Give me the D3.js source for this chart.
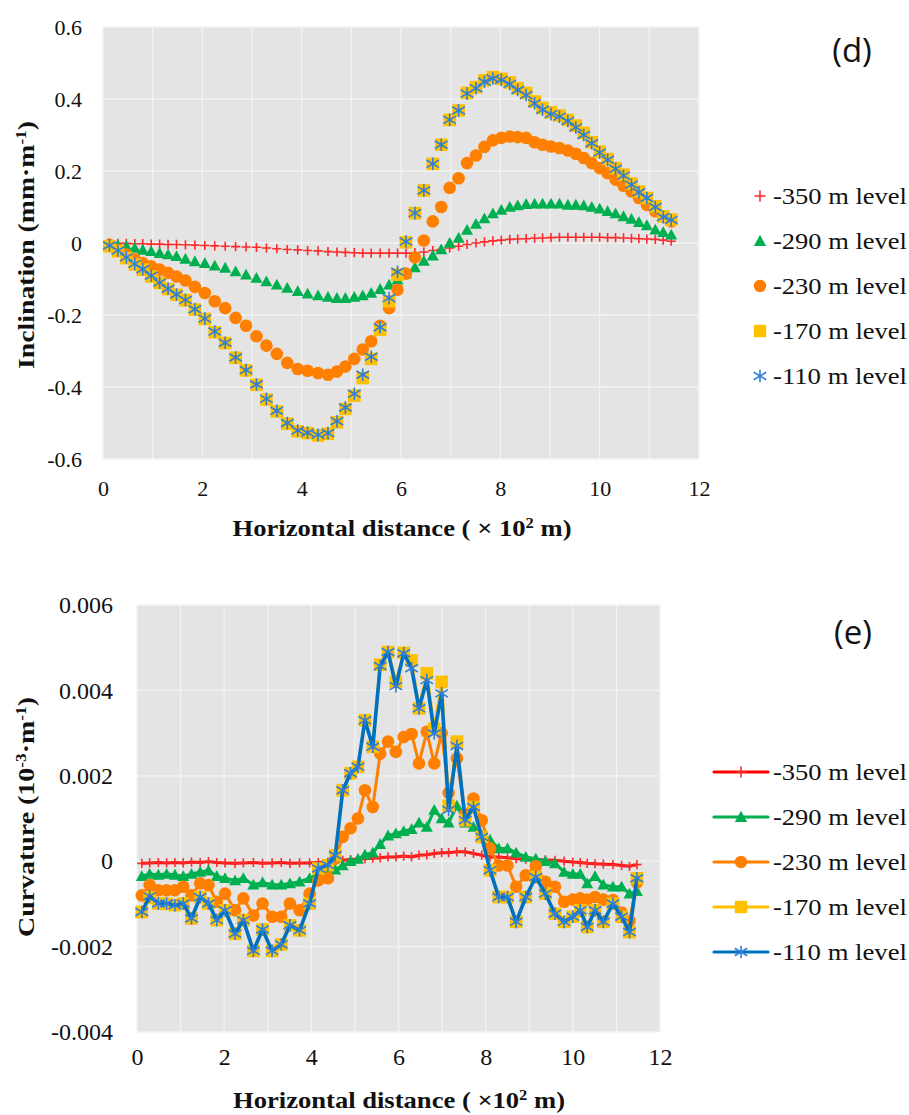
<!DOCTYPE html>
<html>
<head>
<meta charset="utf-8">
<script src="https://cdn.jsdelivr.net/npm/d3@7"></script>
<style>
  body { margin: 0; background: #fff; }
  svg { display: block; }
</style>
</head>
<body>
<svg id="fig" width="909" height="1115"></svg>
<script>
// ---- series metadata ----
const levels = ["-350 m level", "-290 m level", "-230 m level", "-170 m level", "-110 m level"];
const markerKinds = ["plus", "triangle", "circle", "square", "star"];
const markerColors = ["#ff2a2a", "#00b050", "#ff8000", "#ffc000", "#2f7fd6"];
const lineColors = ["#ff0000", "#00b050", "#ff8000", "#ffc000", "#0070c0"];

// ---- (d) inclination, mm/m ----
const distTop = [0.13,0.30,0.47,0.64,0.80,0.97,1.14,1.31,1.48,1.66,
  1.85,2.05,2.25,2.46,2.67,2.88,3.09,3.29,3.50,3.71,
  3.92,4.12,4.33,4.53,4.71,4.88,5.06,5.23,5.40,5.58,
  5.76,5.93,6.10,6.28,6.46,6.64,6.81,6.98,7.16,7.33,
  7.51,7.68,7.85,8.02,8.19,8.35,8.52,8.69,8.85,9.02,
  9.19,9.36,9.52,9.68,9.84,10.00,10.16,10.32,10.48,10.64,
  10.79,10.95,11.12,11.28,11.44];
const incl350 = [0.000,-0.001,-0.001,-0.002,-0.002,-0.003,-0.003,-0.004,-0.004,-0.005,
  -0.006,-0.007,-0.008,-0.009,-0.010,-0.011,-0.012,-0.014,-0.016,-0.018,
  -0.019,-0.021,-0.022,-0.024,-0.025,-0.026,-0.027,-0.028,-0.028,-0.028,
  -0.028,-0.028,-0.028,-0.027,-0.025,-0.021,-0.018,-0.014,-0.009,-0.004,
  0.000,0.003,0.006,0.008,0.010,0.011,0.012,0.013,0.014,0.015,
  0.016,0.016,0.016,0.016,0.016,0.016,0.015,0.015,0.014,0.013,
  0.012,0.011,0.010,0.008,0.005];
const incl290 = [-0.002,-0.006,-0.009,-0.014,-0.019,-0.023,-0.028,-0.032,-0.037,-0.044,
  -0.051,-0.056,-0.063,-0.069,-0.079,-0.088,-0.097,-0.107,-0.116,-0.125,
  -0.134,-0.141,-0.146,-0.150,-0.153,-0.153,-0.150,-0.146,-0.139,-0.128,
  -0.116,-0.102,-0.085,-0.068,-0.050,-0.035,-0.018,0.000,0.014,0.036,
  0.053,0.068,0.082,0.092,0.100,0.104,0.108,0.109,0.109,0.109,
  0.109,0.106,0.106,0.104,0.100,0.095,0.088,0.082,0.074,0.067,
  0.058,0.049,0.037,0.030,0.023];
const incl230 = [-0.005,-0.019,-0.032,-0.045,-0.056,-0.065,-0.074,-0.083,-0.093,-0.104,
  -0.122,-0.139,-0.162,-0.181,-0.208,-0.230,-0.259,-0.285,-0.308,-0.333,
  -0.350,-0.355,-0.361,-0.366,-0.357,-0.343,-0.322,-0.296,-0.273,-0.230,
  -0.181,-0.130,-0.085,-0.040,0.007,0.060,0.100,0.153,0.180,0.222,
  0.243,0.267,0.285,0.292,0.296,0.294,0.292,0.280,0.273,0.268,
  0.264,0.257,0.248,0.236,0.222,0.208,0.194,0.176,0.159,0.143,
  0.125,0.106,0.088,0.074,0.060];
const incl170 = [-0.009,-0.023,-0.042,-0.060,-0.074,-0.093,-0.111,-0.128,-0.144,-0.159,
  -0.185,-0.211,-0.248,-0.278,-0.319,-0.354,-0.394,-0.435,-0.468,-0.502,
  -0.523,-0.528,-0.535,-0.530,-0.498,-0.461,-0.424,-0.375,-0.322,-0.241,
  -0.162,-0.088,0.002,0.083,0.146,0.220,0.273,0.342,0.368,0.417,
  0.433,0.452,0.461,0.456,0.446,0.430,0.417,0.393,0.375,0.363,
  0.354,0.342,0.326,0.306,0.280,0.254,0.233,0.208,0.190,0.165,
  0.143,0.125,0.102,0.074,0.065];
const incl110 = [-0.007,-0.021,-0.040,-0.058,-0.073,-0.091,-0.110,-0.127,-0.143,-0.158,
  -0.184,-0.210,-0.246,-0.277,-0.318,-0.353,-0.393,-0.433,-0.466,-0.500,
  -0.521,-0.527,-0.533,-0.528,-0.495,-0.457,-0.419,-0.366,-0.316,-0.234,
  -0.153,-0.080,0.004,0.083,0.146,0.220,0.273,0.342,0.368,0.415,
  0.430,0.448,0.457,0.453,0.442,0.425,0.411,0.388,0.370,0.358,
  0.351,0.339,0.321,0.300,0.277,0.251,0.231,0.206,0.187,0.162,
  0.141,0.125,0.100,0.072,0.064];

// ---- (e) curvature ----
const distBot = [0.11,0.29,0.49,0.68,0.87,1.06,1.25,1.45,1.64,1.83,
  2.02,2.25,2.44,2.67,2.88,3.10,3.31,3.51,3.73,3.96,
  4.16,4.38,4.55,4.72,4.90,5.07,5.23,5.41,5.58,5.76,
  5.94,6.12,6.30,6.47,6.65,6.82,6.99,7.15,7.34,7.53,
  7.72,7.91,8.10,8.30,8.50,8.70,8.92,9.15,9.37,9.59,
  9.80,10.00,10.17,10.33,10.51,10.70,10.92,11.12,11.30,11.47];
const curv350 = [-0.00005,-0.00004,-0.00003,-0.00004,-0.00003,-0.00004,-0.00002,-0.00003,-0.00001,-0.00003,
  -0.00004,-0.00005,-0.00004,-0.00003,-0.00005,-0.00004,-0.00003,-0.00005,-0.00004,-0.00004,
  -0.00003,-0.00002,0.00000,0.00002,0.00004,0.00005,0.00006,0.00007,0.00008,0.00010,
  0.00010,0.00012,0.00010,0.00014,0.00015,0.00018,0.00020,0.00020,0.00022,0.00022,
  0.00018,0.00014,0.00010,0.00010,0.00008,0.00006,0.00005,0.00004,0.00003,0.00002,
  0.00000,-0.00002,-0.00003,-0.00005,-0.00006,-0.00007,-0.00008,-0.00010,-0.00012,-0.00008];
const curv290 = [-0.00035,-0.00030,-0.00032,-0.00030,-0.00032,-0.00035,-0.00030,-0.00025,-0.00022,-0.00035,
  -0.00040,-0.00045,-0.00040,-0.00055,-0.00050,-0.00055,-0.00055,-0.00052,-0.00048,-0.00040,
  -0.00030,-0.00025,-0.00020,-0.00010,0.00000,0.00005,0.00015,0.00020,0.00040,0.00060,
  0.00065,0.00070,0.00075,0.00090,0.00080,0.00120,0.00100,0.00090,0.00130,0.00090,
  0.00080,0.00060,0.00050,0.00030,0.00030,0.00020,0.00010,0.00006,0.00000,-0.00005,
  -0.00025,-0.00030,-0.00030,-0.00052,-0.00035,-0.00055,-0.00060,-0.00060,-0.00076,-0.00070];
const curv230 = [-0.00080,-0.00056,-0.00068,-0.00068,-0.00068,-0.00060,-0.00080,-0.00052,-0.00056,-0.00095,
  -0.00076,-0.00115,-0.00087,-0.00127,-0.00099,-0.00130,-0.00130,-0.00099,-0.00115,-0.00076,
  -0.00045,-0.00040,0.00006,0.00057,0.00077,0.00100,0.00166,0.00127,0.00252,0.00280,
  0.00256,0.00291,0.00298,0.00229,0.00303,0.00229,0.00300,0.00160,0.00241,0.00110,
  0.00147,0.00096,0.00030,-0.00010,-0.00010,-0.00060,-0.00033,-0.00012,-0.00048,-0.00060,
  -0.00095,-0.00090,-0.00087,-0.00090,-0.00084,-0.00090,-0.00091,-0.00120,-0.00140,-0.00050];
const curv170 = [-0.00119,-0.00085,-0.00099,-0.00100,-0.00103,-0.00099,-0.00134,-0.00084,-0.00099,-0.00138,
  -0.00115,-0.00170,-0.00138,-0.00210,-0.00160,-0.00210,-0.00195,-0.00150,-0.00162,-0.00099,
  -0.00017,-0.00009,0.00014,0.00166,0.00206,0.00221,0.00330,0.00268,0.00460,0.00490,
  0.00420,0.00488,0.00470,0.00358,0.00440,0.00310,0.00420,0.00130,0.00280,0.00096,
  0.00127,0.00057,-0.00021,-0.00084,-0.00084,-0.00142,-0.00084,-0.00037,-0.00076,-0.00123,
  -0.00142,-0.00130,-0.00115,-0.00154,-0.00115,-0.00142,-0.00099,-0.00130,-0.00166,-0.00040];
const curv110 = [-0.00119,-0.00082,-0.00099,-0.00099,-0.00103,-0.00099,-0.00134,-0.00084,-0.00099,-0.00138,
  -0.00115,-0.00170,-0.00138,-0.00210,-0.00160,-0.00210,-0.00195,-0.00150,-0.00162,-0.00099,
  -0.00017,-0.00009,0.00014,0.00166,0.00206,0.00221,0.00330,0.00268,0.00457,0.00490,
  0.00410,0.00487,0.00452,0.00358,0.00424,0.00299,0.00393,0.00120,0.00270,0.00096,
  0.00127,0.00057,-0.00021,-0.00084,-0.00084,-0.00142,-0.00084,-0.00037,-0.00076,-0.00123,
  -0.00142,-0.00130,-0.00115,-0.00154,-0.00115,-0.00142,-0.00099,-0.00130,-0.00166,-0.00040];

// ---- tick values ----
const xTicks = [0, 2, 4, 6, 8, 10, 12];
const xGrid = [0,1,2,3,4,5,6,7,8,9,10,11,12];
const yTicksTop = [-0.6, -0.4, -0.2, 0, 0.2, 0.4, 0.6];
const yTicksBot = [-0.004, -0.002, 0, 0.002, 0.004, 0.006];

const inclSeries = [incl350, incl290, incl230, incl170, incl110];
const curvSeries = [curv350, curv290, curv230, curv170, curv110];

const svg = d3.select("#fig");
const serif = "'Liberation Serif', 'Times New Roman', serif";

function addMarker(g, kind, color, s) {
  if (kind === "plus") {
    g.append("path").attr("d", `M${-s},0H${s}M0,${-s}V${s}`)
      .attr("stroke", color).attr("stroke-width", 1.6).attr("fill", "none");
  } else if (kind === "triangle") {
    g.append("path").attr("d", `M0,${-s}L${s},${s * 0.8}L${-s},${s * 0.8}Z`).attr("fill", color);
  } else if (kind === "circle") {
    g.append("circle").attr("r", s).attr("fill", color);
  } else if (kind === "square") {
    g.append("rect").attr("x", -s).attr("y", -s).attr("width", 2 * s).attr("height", 2 * s).attr("fill", color);
  } else if (kind === "star") {
    g.append("path").attr("d", `M${-s},${-s * 0.6}L${s},${s * 0.6}M${-s},${s * 0.6}L${s},${-s * 0.6}M0,${-s}V${s}`)
      .attr("stroke", color).attr("stroke-width", 1.6).attr("fill", "none");
  }
}

const markerSize = { plus: 4.6, triangle: 6, circle: 6.3, square: 6.3, star: 6.3 };

function richText(sel, parts) {
  parts.forEach(p => {
    const t = sel.append("tspan").text(p[0]);
    if (p[1]) t.attr("baseline-shift", "super").attr("font-size", "0.62em");
  });
}

function panel(opts) {
  const x = d3.scaleLinear().domain([0, 12]).range([opts.left, opts.right]);
  const y = d3.scaleLinear().domain(opts.yDomain).range([opts.bottom, opts.top]);
  const g = svg.append("g");

  // plot background and grid
  g.append("rect").attr("x", opts.left).attr("y", opts.top)
    .attr("width", opts.right - opts.left).attr("height", opts.bottom - opts.top)
    .attr("fill", "#e4e4e4");
  g.selectAll(".vg").data(xGrid).join("line")
    .attr("x1", d => x(d)).attr("x2", d => x(d))
    .attr("y1", opts.top).attr("y2", opts.bottom)
    .attr("stroke", "#f3f3f3").attr("stroke-width", 1.3);
  g.selectAll(".hg").data(opts.yTicks).join("line")
    .attr("x1", opts.left).attr("x2", opts.right)
    .attr("y1", d => y(d)).attr("y2", d => y(d))
    .attr("stroke", "#f3f3f3").attr("stroke-width", 1.3);

  // axes
  const fmt = d => (d === 0 ? "0" : String(d));
  const ax = g.append("g").attr("transform", `translate(0,${opts.bottom})`)
    .call(d3.axisBottom(x).tickValues(xTicks).tickSize(0).tickPadding(opts.xPad).tickFormat(fmt));
  const ay = g.append("g").attr("transform", `translate(${opts.left},0)`)
    .call(d3.axisLeft(y).tickValues(opts.yTicks).tickSize(0).tickPadding(opts.yPad).tickFormat(fmt));
  [ax, ay].forEach(a => {
    a.select(".domain").remove();
    a.selectAll("text").attr("font-family", serif).attr("font-size", opts.tickFont).attr("fill", "#111");
  });

  // series
  opts.series.forEach((vals, i) => {
    const pts = vals.map((v, k) => [opts.dist[k], v]);
    if (opts.lines) {
      g.append("path").datum(pts)
        .attr("d", d3.line().x(d => x(d[0])).y(d => y(d[1])))
        .attr("fill", "none").attr("stroke", lineColors[i])
        .attr("stroke-width", i === 4 ? 3.6 : 3).attr("stroke-linejoin", "round");
    }
    g.append("g").selectAll("g").data(pts).join("g")
      .attr("transform", d => `translate(${x(d[0])},${y(d[1])})`)
      .each(function () { addMarker(d3.select(this), markerKinds[i], markerColors[i], markerSize[markerKinds[i]]); });
  });

  // axis titles
  const yt = g.append("text")
    .attr("transform", `translate(${opts.yTitleX},${opts.yTitleY}) rotate(-90)`)
    .attr("text-anchor", "middle").attr("font-family", serif).attr("font-weight", "bold")
    .attr("font-size", 24).attr("fill", "#111")
    .attr("textLength", opts.yTitleLen).attr("lengthAdjust", "spacingAndGlyphs");
  richText(yt, opts.yTitle);
  const xt = g.append("text").attr("x", opts.xTitleX).attr("y", opts.xTitleY)
    .attr("text-anchor", "middle").attr("font-family", serif).attr("font-weight", "bold")
    .attr("font-size", 24).attr("fill", "#111")
    .attr("textLength", opts.xTitleLen).attr("lengthAdjust", "spacingAndGlyphs");
  richText(xt, opts.xTitle);

  // panel tag
  g.append("text").attr("x", opts.tagX).attr("y", opts.tagY)
    .attr("text-anchor", "middle").attr("font-family", "'Open Sans', 'Liberation Sans', sans-serif")
    .attr("font-size", 33).attr("fill", "#111").text(opts.tag);

  // legend
  const lg = g.append("g");
  levels.forEach((name, i) => {
    const ly = opts.legendY + i * 45;
    if (opts.lines) {
      lg.append("line").attr("x1", opts.legendX - 27).attr("x2", opts.legendX + 27)
        .attr("y1", ly).attr("y2", ly).attr("stroke", lineColors[i])
        .attr("stroke-width", 3.2).attr("stroke-linecap", "round");
    }
    const mg = lg.append("g").attr("transform", `translate(${opts.legendX},${ly})`);
    addMarker(mg, markerKinds[i], markerColors[i], markerKinds[i] === "plus" ? 5.5 : 6.2);
    lg.append("text").attr("x", opts.legendTextX).attr("y", ly).attr("dy", "0.35em")
      .attr("font-family", serif).attr("font-size", 24).attr("fill", "#111")
      .attr("textLength", 134).attr("lengthAdjust", "spacingAndGlyphs").text(name);
  });
}

panel({
  left: 103, right: 699, top: 27, bottom: 459,
  yDomain: [-0.6, 0.6], yTicks: yTicksTop, xPad: 21, yPad: 21, tickFont: 22,
  dist: distTop, series: inclSeries, lines: false,
  yTitle: [["Inclination (mm·m"], ["-1", true], [")"]],
  yTitleX: 34, yTitleY: 245, yTitleLen: 248,
  xTitle: [["Horizontal distance ( × 10"], ["2", true], [" m)"]],
  xTitleX: 402, xTitleY: 536, xTitleLen: 339,
  tag: "(d)", tagX: 852, tagY: 62,
  legendX: 760, legendTextX: 773, legendY: 196
});

panel({
  left: 137, right: 660, top: 605, bottom: 1032,
  yDomain: [-0.004, 0.006], yTicks: yTicksBot, xPad: 16, yPad: 24, tickFont: 24,
  dist: distBot, series: curvSeries, lines: true,
  yTitle: [["Curvature (10"], ["-3", true], ["·m"], ["-1", true], [")"]],
  yTitleX: 34, yTitleY: 817, yTitleLen: 240,
  xTitle: [["Horizontal distance ( ×10"], ["2", true], [" m)"]],
  xTitleX: 399, xTitleY: 1108, xTitleLen: 332,
  tag: "(e)", tagX: 853, tagY: 644,
  legendX: 741, legendTextX: 773, legendY: 772
});
</script>
</body>
</html>
